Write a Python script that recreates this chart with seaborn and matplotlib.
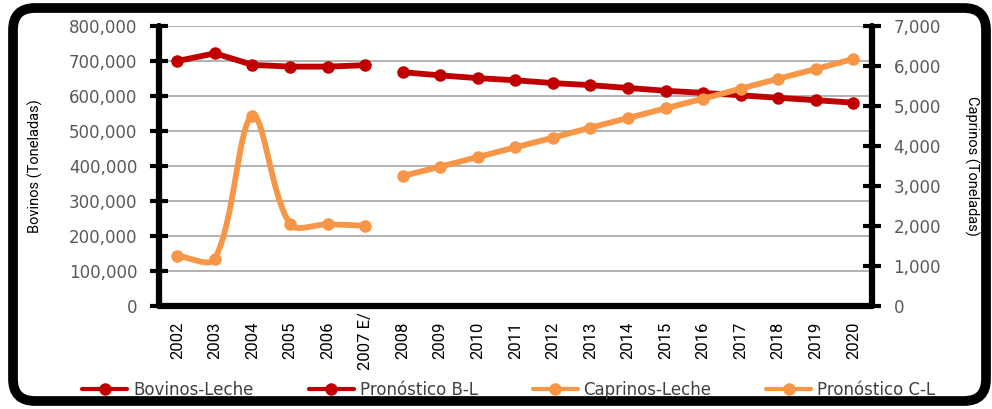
import numpy as np
import pandas as pd
import seaborn as sns
import matplotlib.pyplot as plt
from matplotlib.lines import Line2D
from matplotlib.path import Path
from matplotlib.patches import PathPatch, FancyBboxPatch
from matplotlib.ticker import FuncFormatter, MultipleLocator, FixedLocator, NullFormatter

###########################################################
# DATOS
###########################################################

anios = ['2002', '2003', '2004', '2005', '2006', '2007 E/', '2008', '2009', '2010',
         '2011', '2012', '2013', '2014', '2015', '2016', '2017', '2018', '2019', '2020']
anios_hist = anios[:6]
anios_pron = anios[6:]

bovinos_hist = [700000, 722000, 689000, 684000, 684000, 688000]
bovinos_pron = [668000, 659000, 651000, 645000, 637000, 631000, 623000,
                615000, 609000, 602000, 595000, 588000, 581000]

caprinos_hist = [1250, 1183, 4758, 2050, 2043, 2008]
caprinos_pron = [3250, 3483, 3725, 3967, 4208, 4458, 4700,
                 4942, 5183, 5433, 5683, 5925, 6175]

etiquetas = ['Bovinos-Leche', 'Pronóstico B-L', 'Caprinos-Leche', 'Pronóstico C-L']

ROJO = '#C00000'
NARANJA = '#F79646'
GRIS = '#595959'
ANGOSTA = ['Liberation Sans Narrow', 'Roboto', 'DejaVu Sans']


def armar_df(lista_anios, valores):
    return pd.DataFrame({'pos': [anios.index(a) for a in lista_anios], 'valor': valores})


def curva_suave(ax, df, t=1/3):
    # linea suavizada tipo Excel (bezier por tramos)
    pts = ax.transData.transform(df[['pos', 'valor']].to_numpy(dtype=float))
    n = len(pts)
    verts = [pts[0]]
    codes = [Path.MOVETO]
    for i in range(n - 1):
        p0 = pts[i - 1] if i > 0 else pts[i]
        p1 = pts[i]
        p2 = pts[i + 1]
        p3 = pts[i + 2] if i + 2 < n else pts[i + 1]
        d01 = np.hypot(*(p1 - p0))
        d12 = np.hypot(*(p2 - p1))
        d23 = np.hypot(*(p3 - p2))
        c1 = p1 + t * d12 / (d01 + d12) * (p2 - p0)
        c2 = p2 - t * d12 / (d12 + d23) * (p3 - p1)
        verts += [c1, c2, p2]
        codes += [Path.CURVE4] * 3
    verts = ax.transData.inverted().transform(np.array(verts))
    return PathPatch(Path(verts, codes), fill=False, ec=NARANJA, lw=4.2,
                     capstyle='round', joinstyle='round', transform=ax.transData)


###########################################################
# FIGURA
###########################################################

sns.set_style('white')
plt.rcParams['font.family'] = ['DejaVu Sans']

fig = plt.figure(figsize=(9.92, 4.09), dpi=100)
ax = fig.add_axes([0.1599, 0.2518, 0.7192, 0.6846])
ax2 = ax.twinx()

ax.set_xlim(-0.5, len(anios) - 0.5)
ax.set_ylim(0, 800000)
ax2.set_ylim(0, 7000)

estilo = dict(lw=4.2, marker='o', markersize=9, mec=None, markeredgewidth=0,
              solid_capstyle='round', solid_joinstyle='round', errorbar=None, legend=False)

sns.lineplot(data=armar_df(anios_hist, bovinos_hist), x='pos', y='valor', ax=ax,
             color=ROJO, **estilo)
sns.lineplot(data=armar_df(anios_pron, bovinos_pron), x='pos', y='valor', ax=ax,
             color=ROJO, **estilo)

df_cap_hist = armar_df(anios_hist, caprinos_hist)
ax2.add_patch(curva_suave(ax2, df_cap_hist))
sns.scatterplot(data=df_cap_hist, x='pos', y='valor', ax=ax2, color=NARANJA,
                s=81, linewidth=0, legend=False, zorder=3)
sns.lineplot(data=armar_df(anios_pron, caprinos_pron), x='pos', y='valor', ax=ax2,
             color=NARANJA, **estilo)

# ejes
for a in (ax, ax2):
    for s in a.spines.values():
        s.set_visible(False)
ax.spines['left'].set_visible(True)
ax.spines['bottom'].set_visible(True)
ax2.spines['right'].set_visible(True)
for s in (ax.spines['left'], ax.spines['bottom'], ax2.spines['right']):
    s.set_linewidth(4.5)
    s.set_color('black')
    s.set_capstyle('round')

ax.yaxis.grid(True, color='#A6A6A6', lw=1.2)
ax.set_axisbelow(True)

ax.yaxis.set_major_locator(MultipleLocator(100000))
ax2.yaxis.set_major_locator(MultipleLocator(1000))
fmt = FuncFormatter(lambda v, p: f'{v:,.0f}')
ax.yaxis.set_major_formatter(fmt)
ax2.yaxis.set_major_formatter(fmt)
for a in (ax, ax2):
    a.tick_params(axis='y', direction='inout', length=12.7, width=3, pad=9,
                  labelsize=12, labelcolor=GRIS, color='black')

ax.xaxis.set_major_locator(FixedLocator(np.arange(-0.5, len(anios), 1)))
ax.xaxis.set_major_formatter(NullFormatter())
ax.set_xticks(range(len(anios)), minor=True)
ax.set_xticklabels(anios, minor=True, rotation=90, va='center', family=ANGOSTA,
                   fontsize=12, color='black')
ax.tick_params(axis='x', which='major', direction='inout', length=9.5, width=3,
               color='black')
ax.tick_params(axis='x', which='minor', length=0, pad=25)
ax2.tick_params(axis='x', which='both', length=0)

ax.set_xlabel('')
ax2.set_xlabel('')
ax.set_ylabel('Bovinos (Toneladas)', family=ANGOSTA, fontsize=10.5, color='black', va='center')
ax.yaxis.set_label_coords(-0.173, 0.5)
ax2.set_ylabel('Caprinos (Toneladas)', family=ANGOSTA, fontsize=10.5, color='black',
               rotation=270, va='center')
ax2.yaxis.set_label_coords(1.14, 0.5)

# leyenda
colores = [ROJO, ROJO, NARANJA, NARANJA]
manijas = [Line2D([], [], color=c, lw=3, marker='o', markersize=9, markeredgewidth=0)
           for c in colores]
fig.legend(manijas, etiquetas, loc='center', bbox_to_anchor=(0.513, 0.046), ncol=4,
           frameon=False, handlelength=2.7, handletextpad=0.35, columnspacing=3.3,
           fontsize=12, labelcolor='#404040')

# marco redondeado
marco = FancyBboxPatch((0.13, 0.08), 9.73, 3.93, boxstyle='round,pad=0,rounding_size=0.22',
                       transform=fig.dpi_scale_trans, fill=False, ec='black', lw=7)
fig.add_artist(marco)

fig.savefig('out.png', dpi=100)
